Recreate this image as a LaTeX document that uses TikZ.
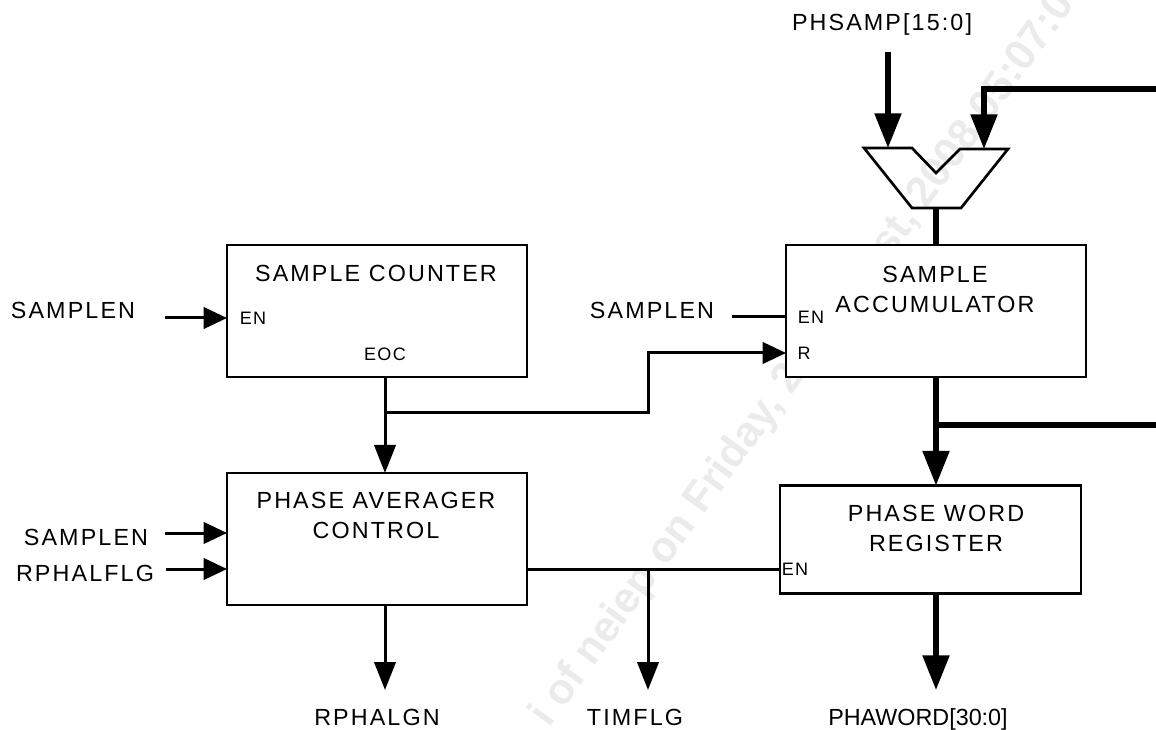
\documentclass[tikz,border=0pt]{standalone}
\usepackage{fontspec}
\setmainfont{Liberation Sans}
\newfontfamily\sigfont[LetterSpace=9]{Liberation Sans}
\newfontfamily\tightfont{Liberation Sans}
\newfontfamily\portfont[LetterSpace=8]{Liberation Sans}
\usetikzlibrary{arrows.meta, calc, positioning}
\definecolor{markgray}{gray}{0.92}
\tikzset{
    block/.style={draw, fill=white, line width=2pt, outer sep=0pt, inner sep=0pt},
    title/.style={inner sep=0pt, align=center, font=\sigfont\fontsize{17.5}{22.5}\selectfont},
    signame/.style={inner sep=0pt, text depth=0pt, font=\sigfont\fontsize{17.5}{20}\selectfont},
    port/.style={inner sep=0pt, font=\portfont\fontsize{13.5}{15}\selectfont},
    wire/.style={line width=2.25pt},
    sig/.style={wire, -{Triangle[length=17.5pt, width=16pt]}},
    sigdown/.style={wire, -{Triangle[length=21pt, width=16pt]}},
    bus/.style={line width=4pt},
    busin/.style={bus, -{Triangle[length=26pt, width=19.5pt]}}
}
\begin{document}
\begin{tikzpicture}[x=0.75pt, y=-0.75pt]
    \useasboundingbox (0,0) rectangle (1156,730);
    % Watermark
    \node[rotate=54, anchor=base west, text=markgray, inner sep=0pt, font=\bfseries\fontsize{32}{36}\selectfont] (mark) at (549,729) {i of neiep on Friday, 22 August, 2008 05:07:0};
    % Blocks
    \node[block, minimum width=225pt, minimum height=99pt] (cnt) at (377,311) {};
    \node[block, minimum width=225pt, minimum height=99pt] (acc) at (936,311) {};
    \node[block, minimum width=225pt, minimum height=99pt] (avg) at (377,539) {};
    \node[block, minimum width=225.75pt, minimum height=81pt] (reg) at (930.5,539.5) {};
    \node[title] (cntname) at (376,273) {SAMPLE COUNTER};
    \node[title] (accname) at (935,289) {SAMPLE\\ACCUMULATOR};
    \node[title] (avgname) at (376,515) {PHASE AVERAGER\\CONTROL};
    \node[title] (regname) at (936,528) {PHASE WORD\\REGISTER};
    % Ports
    \node[port] (cnten) at (253,318) {EN};
    \node[port] (eoc) at (385,354) {EOC};
    \node[port] (accen) at (811,317) {EN};
    \node[port] (accr) at (804,353) {R};
    \node[port] (regen) at (795,569) {EN};
    % Signal names
    \node[signame] (phsamp) at (882,22) {PHSAMP[15:0]};
    \node[signame] (cntin) at (73,310) {SAMPLEN};
    \node[signame] (accin) at (652,310) {SAMPLEN};
    \node[signame] (avgin) at (86,537) {SAMPLEN};
    \node[signame] (rphal) at (85,573) {RPHALFLG};
    \node[signame] (rphalgn) at (377,717) {RPHALGN};
    \node[signame] (timflg) at (635,717) {TIMFLG};
    \node[signame, font=\tightfont\fontsize{17.5}{20}\selectfont] (phaword) at (918,717) {PHAWORD[30:0]};
    % Adder
    \draw[line width=2pt] (864,148) coordinate (adda) -- (912,148) -- (936,173) -- (960,149) -- (1008,149) -- (961,208) -- (912,208) -- cycle;
    \coordinate (addin) at (888,148);
    \coordinate (addfb) at (984,149);
    \coordinate (addout) at (936,208);
    % Adder connections
    \draw[busin] (888,52) coordinate (phstart) -- (addin);
    \draw[busin] (1156,89) -- (984,89) -- (addfb);
    \draw[bus] (addout) -- (acc.north);
    % Counter and control
    \draw[sig] ([xshift=22.5pt]cntin.east |- cnten) -- (cnt.west |- cnten);
    \draw[sigdown] (eoc |- cnt.south) -- (eoc |- avg.north);
    \coordinate (rtee) at (eoc |- 0,413);
    \draw[sig] (rtee) -- (648,413) -- (648,353) -- (acc.west |- accr);
    \draw[wire] ([xshift=13.5pt]accin.east |- accen) -- (acc.west |- accen);
    \draw[sig] ([xshift=12.75pt]avgin.east |- 0,533) -- (avg.west |- 0,533);
    \draw[sig] ([xshift=9pt]rphal.east |- 0,569) -- (avg.west |- 0,569);
    \draw[sigdown] (eoc |- avg.south) -- (eoc |- 0,690);
    % Enable and flag
    \draw[wire] (avg.east |- regen) -- (reg.west |- regen);
    \coordinate (flagtee) at (648,569);
    \draw[sigdown] (flagtee) -- (648,690);
    % Phase word
    \draw[busin] (acc.south) -- (acc.south |- reg.north);
    \coordinate (wordtee) at (936,425);
    \draw[bus] (wordtee) -- (1156,425);
    \draw[busin] (acc.south |- reg.south) -- (936,690);
\end{tikzpicture}
\end{document}
